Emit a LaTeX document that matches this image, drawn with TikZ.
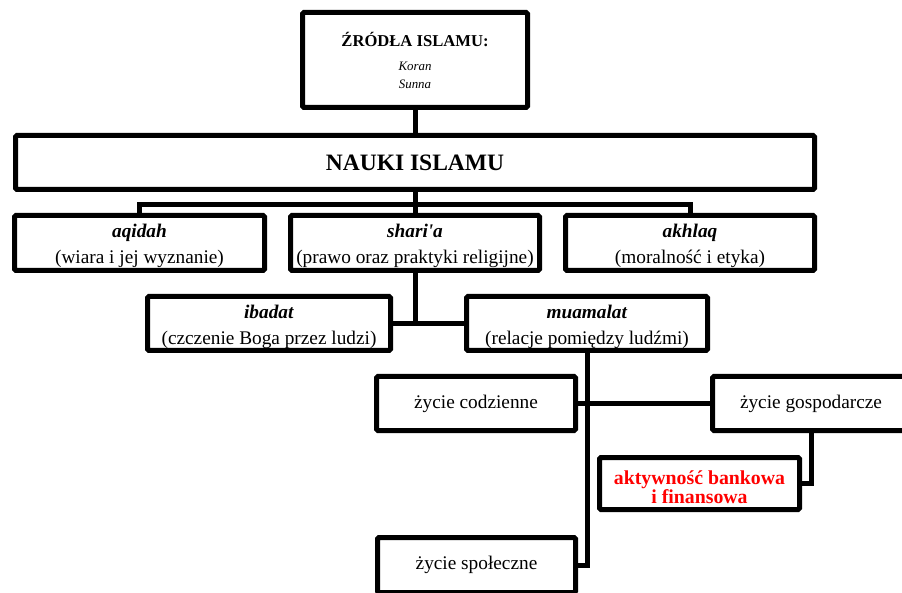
\documentclass[tikz,border=0pt]{standalone}
\usepackage{fontspec}
\setmainfont{Liberation Serif}
\definecolor{hred}{RGB}{255,0,0}
\newcommand{\topstrut}[1]{\rule{0pt}{#1}}
\tikzset{
  box/.style={draw=black, line width=5pt, rounded corners=1.5pt, inner sep=0pt,
    align=center, fill=white, font=\fontsize{19.3}{26}\selectfont},
  conn/.style={draw=black, line width=5pt},
}
\begin{document}
\begin{tikzpicture}[x=1pt,y=-1pt]
\useasboundingbox (0,0) rectangle (902,593);
% boxes
\node[box, minimum width=225pt, minimum height=95pt, font=\fontsize{12.9}{18}\selectfont] (zrodla) at (415,60)
  {{\fontsize{16.6}{20}\selectfont\bfseries ŹRÓDŁA ISLAMU:}\\[6pt]\textit{Koran}\\\textit{Sunna}};
\node[box, minimum width=799pt, minimum height=54pt, font=\fontsize{23.5}{28}\selectfont\bfseries] (nauki) at (415,162.5) {NAUKI ISLAMU};
\node[box, minimum width=250pt, minimum height=55pt] (aqidah) at (139.5,243)
  {\topstrut{19.5pt}\textbf{\textit{aqidah}}\\(wiara i jej wyznanie)};
\node[box, minimum width=249pt, minimum height=55pt] (sharia) at (415,243)
  {\topstrut{19.5pt}\textbf{\textit{shari\textquotesingle a}}\\(prawo oraz praktyki religijne)};
\node[box, minimum width=249pt, minimum height=55pt] (akhlaq) at (690,243)
  {\topstrut{19.5pt}\textbf{\textit{akhlaq}}\\(moralność i etyka)};
\node[box, minimum width=243pt, minimum height=54pt] (ibadat) at (269,323.5)
  {\topstrut{19.5pt}\textbf{\textit{ibadat}}\\(czczenie Boga przez ludzi)};
\node[box, minimum width=241pt, minimum height=54pt] (muamalat) at (587,323.5)
  {\topstrut{19.5pt}\textbf{\textit{muamalat}}\\(relacje pomiędzy ludźmi)};
\node[box, minimum width=199pt, minimum height=54pt] (codzienne) at (476,403.5) {życie codzienne};
\node[box, minimum width=197pt, minimum height=54pt] (gosp) at (811,403.5) {życie gospodarcze};
\node[box, minimum width=200pt, minimum height=52pt, text=hred, font=\fontsize{19.8}{19}\selectfont\bfseries] (aktyw) at (699.5,483.5)
  {\topstrut{21.5pt}aktywność bankowa\\i finansowa};
\node[box, minimum width=198pt, minimum height=55pt] (spol) at (476.5,565) {życie społeczne};
\coordinate (bus) at (415,205);
% connectors
\draw[conn] (zrodla.south) -- (nauki.north);
\draw[conn] (nauki.south) -- (sharia.north);
\draw[conn] (aqidah.north) |- (bus) -| (akhlaq.north);
\draw[conn] (ibadat.east) -- (muamalat.west);
\draw[conn] (sharia.south) -- (sharia.south |- ibadat.east);
\draw[conn] (muamalat.south) |- (spol.east);
\draw[conn] (codzienne.east) -- (gosp.west);
\draw[conn] (gosp.south) |- (aktyw.east);
\end{tikzpicture}
\end{document}
